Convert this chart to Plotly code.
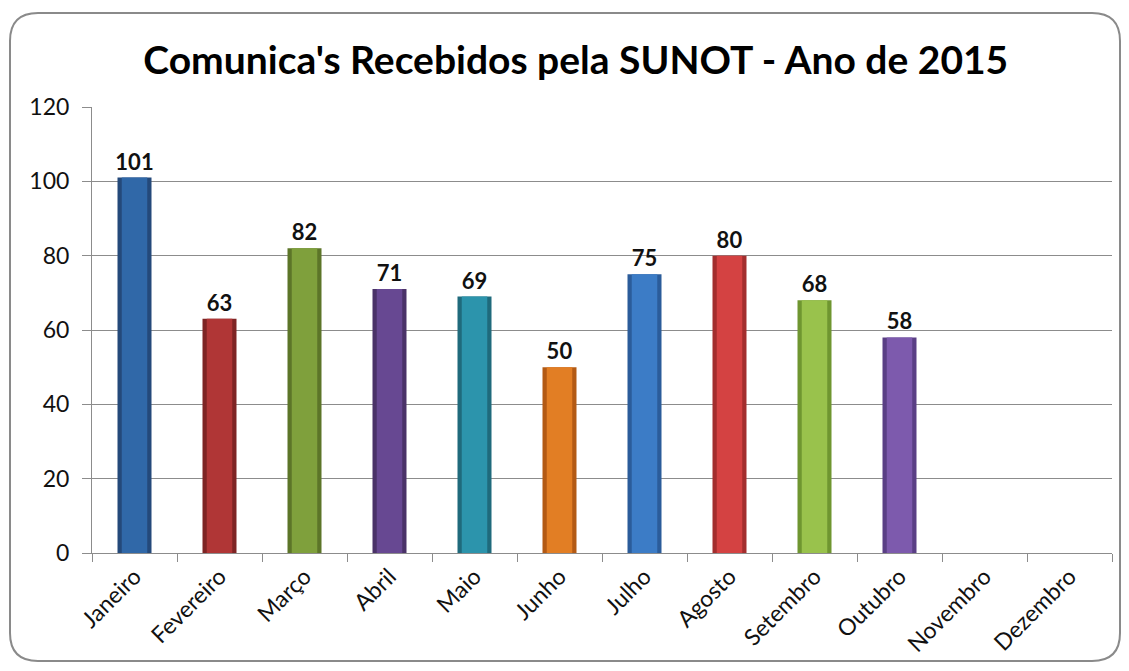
import plotly.graph_objects as go

# ── Data ──────────────────────────────────────────────────────────────────────
months = ["Janeiro", "Fevereiro", "Março", "Abril", "Maio", "Junho",
          "Julho", "Agosto", "Setembro", "Outubro", "Novembro", "Dezembro"]
values = [101, 63, 82, 71, 69, 50, 75, 80, 68, 58, None, None]

# edge (darker) and face colours per bar
edge_colors = ["#24497A", "#7E2424", "#5C7528", "#4A3268", "#1F6A7C", "#B35A14",
               "#2B5C9A", "#A32E2E", "#6F9630", "#5A3F85", "#888888", "#888888"]
face_colors = ["#3068A8", "#B03636", "#7FA03C", "#674892", "#2C94AC", "#E27E24",
               "#3C7CC6", "#D44242", "#99C24C", "#7D5AAD", "#888888", "#888888"]

TITLE = "Comunica's Recebidos pela SUNOT - Ano de 2015"
FONT = "Lato, 'Open Sans', sans-serif"
GRID = "#8C8C8C"

fig = go.Figure()

# outer (dark edge) bar
fig.add_trace(go.Bar(
    x=months, y=values,
    width=0.4,
    marker=dict(color=edge_colors, line=dict(width=0)),
    hoverinfo="skip",
    showlegend=False,
))

# inner lighter face, with value labels
fig.add_trace(go.Bar(
    x=months, y=values,
    width=0.3,
    marker=dict(color=face_colors, line=dict(width=0)),
    text=[str(v) if v is not None else "" for v in values],
    textposition="outside",
    constraintext="none",
    textfont=dict(family=FONT, size=22, color="#111111", weight="bold"),
    cliponaxis=False,
    showlegend=False,
))

# rounded frame around the whole chart (pixel coords -> paper)
W, H = 1129, 671
L, R, T, B = 92, 17, 107, 118
pw, ph = W - L - R, H - T - B


def px(x):
    return (x - L) / pw


def py(y):
    return (H - B - y) / ph


x0, x1, y0, y1, r = 10, 1120, 13, 661, 28
path = (f"M {px(x0 + r)},{py(y0)} L {px(x1 - r)},{py(y0)} "
        f"Q {px(x1)},{py(y0)} {px(x1)},{py(y0 + r)} "
        f"L {px(x1)},{py(y1 - r)} Q {px(x1)},{py(y1)} {px(x1 - r)},{py(y1)} "
        f"L {px(x0 + r)},{py(y1)} Q {px(x0)},{py(y1)} {px(x0)},{py(y1 - r)} "
        f"L {px(x0)},{py(y0 + r)} Q {px(x0)},{py(y0)} {px(x0 + r)},{py(y0)} Z")
fig.add_shape(type="path", xref="paper", yref="paper", path=path,
              line=dict(color="#8A8A8A", width=2), layer="below")

fig.update_layout(
    title=dict(text=f"<b>{TITLE}</b>", x=0.51, xref="container", xanchor="center",
               y=0.91, yanchor="middle",
               font=dict(family=FONT, size=39, color="#000000")),
    barmode="overlay",
    paper_bgcolor="#FFFFFF",
    plot_bgcolor="#FFFFFF",
    width=W, height=H,
    margin=dict(l=L, r=R, t=T, b=B),
    xaxis=dict(
        type="category",
        tickangle=-45,
        tickfont=dict(family=FONT, size=23, color="#111111"),
        tickson="boundaries",
        ticks="outside", ticklen=8, tickcolor=GRID,
        showline=True, linecolor=GRID, linewidth=1,
        showgrid=False,
    ),
    yaxis=dict(
        range=[0, 120],
        dtick=20,
        tickfont=dict(family=FONT, size=23, color="#111111"),
        ticks="outside", ticklen=9, tickcolor=GRID,
        ticklabelstandoff=8,
        showline=True, linecolor=GRID, linewidth=1,
        gridcolor=GRID, gridwidth=1,
        zeroline=False,
    ),
)

fig.write_html("out.html", config={"displayModeBar": False},
               post_script="document.body.style.margin='0';")
